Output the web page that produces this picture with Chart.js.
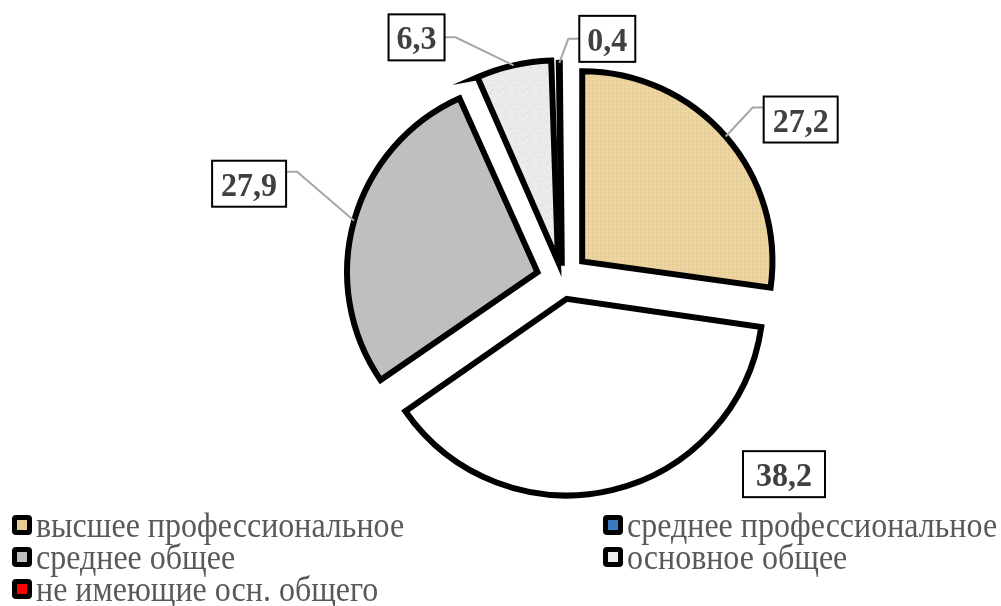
<!DOCTYPE html>
<html><head><meta charset="utf-8">
<script src="https://cdn.jsdelivr.net/npm/chart.js@4/dist/chart.umd.min.js"></script>
<style>html,body{margin:0;padding:0;background:#fff;}</style>
</head><body>
<canvas id="c" width="1001" height="606" style="display:block;width:1001px;height:606px"></canvas>
<script>
// ---- data ----
const categories = ['высшее профессиональное', 'среднее профессиональное', 'среднее общее', 'основное общее', 'не имеющие осн. общего'];
const shares = [27.2, 38.2, 27.9, 6.3, 0.4];
const valueLabels = ['27,2', '38,2', '27,9', '6,3', '0,4'];
// ---- styles ----
const legendSwatch = ['#E7CC92', '#3A7AC0', '#BFBFBF', '#EEEEEE', '#FF0000'];
const sliceBase = ['#EED7A3', '#FFFFFF', '#BFBFBF', '#EBEBEB', '#000000'];
const explode = [107, 81.5, 102, 72, 53];
const showLeader = [true, false, true, true, true];
const boxDx = [75, 172, -105, -97, 48];
const boxDy = [-17, -16, -37, -28, -24];
const attachDy = [-12, 0, -12, 0, 0];
const boxPadX = [9, 13, 9, 8, 8];
const SERIF = '"Liberation Serif", "DejaVu Serif", "Times New Roman", serif';

function texture(base, kind) {
  const c = document.createElement('canvas');
  c.width = 24; c.height = 24;
  const g = c.getContext('2d');
  g.fillStyle = base; g.fillRect(0, 0, 24, 24);
  if (kind === 'grid') {
    g.fillStyle = 'rgba(200,170,110,0.18)';
    for (let i = 0; i < 24; i += 4) { g.fillRect(i, 0, 1, 24); g.fillRect(0, i + 2, 24, 1); }
  } else if (kind === 'speck') {
    g.fillStyle = 'rgba(180,180,180,0.35)';
    const pts = [[1,3],[5,9],[9,2],[13,14],[17,6],[21,19],[3,17],[8,21],[15,11],[19,1],[11,7],[22,12],[6,13],[14,20],[2,10]];
    pts.forEach(p => g.fillRect(p[0], p[1], 2, 1));
  }
  return g.createPattern(c, 'repeat');
}
const ctx0 = document.getElementById('c').getContext('2d');
const fills = [texture(sliceBase[0], 'grid'), sliceBase[1], sliceBase[2], texture(sliceBase[3], 'speck'), sliceBase[4]];

const labelPlugin = {
  id: 'labelsAndLegend',
  afterDatasetsDraw(chart) {
    const ctx = chart.ctx;
    const meta = chart.getDatasetMeta(0);
    ctx.save();
    ctx.font = 'bold 32px ' + SERIF;
    meta.data.forEach((arc, i) => {
      const p = arc.getProps(['x', 'y', 'startAngle', 'endAngle', 'outerRadius', 'circumference']);
      const mid = (p.startAngle + p.endAngle) / 2;
      const off = (explode[i] / 4) * (1 + (1 - Math.sin(Math.min(Math.PI, p.circumference))));
      const ax = p.x + Math.cos(mid) * (off + p.outerRadius);
      const ay = p.y + Math.sin(mid) * (off + p.outerRadius);
      const tw = ctx.measureText(valueLabels[i]).width;
      const bw = tw + 2 * boxPadX[i], bh = 46;
      const cx = ax + boxDx[i], cy = ay + boxDy[i];
      if (showLeader[i]) {
        const right = boxDx[i] < 0;
        const ex = right ? cx + bw / 2 : cx - bw / 2;
        const ey = cy + attachDy[i];
        ctx.strokeStyle = '#A6A6A6'; ctx.lineWidth = 2;
        ctx.beginPath(); ctx.moveTo(ax, ay); ctx.lineTo(right ? ex + 11 : ex - 11, ey); ctx.lineTo(ex, ey); ctx.stroke();
      }
      ctx.fillStyle = '#fff'; ctx.fillRect(cx - bw / 2, cy - bh / 2, bw, bh);
      ctx.strokeStyle = '#000'; ctx.lineWidth = 2;
      ctx.strokeRect(cx - bw / 2, cy - bh / 2, bw, bh);
      ctx.fillStyle = '#404040'; ctx.textAlign = 'center'; ctx.textBaseline = 'alphabetic';
      ctx.save();
      ctx.translate(cx, cy + 12);
      ctx.scale(1, 1.08);
      ctx.fillText(valueLabels[i], 0, 0);
      ctx.restore();
    });
    // legend
    ctx.font = '32px ' + SERIF;
    ctx.textAlign = 'left';
    categories.forEach((name, i) => {
      const col = i % 2, row = Math.floor(i / 2);
      const sx = col ? 603 : 12;
      const sy = 525 + row * 32;
      ctx.fillStyle = '#000';
      ctx.beginPath(); ctx.roundRect(sx, sy - 10, 20, 20, 4); ctx.fill();
      ctx.fillStyle = legendSwatch[i];
      ctx.fillRect(sx + 5, sy - 5, 10, 10);
      ctx.fillStyle = '#595959';
      ctx.save();
      ctx.translate(sx + 24, sy + 12);
      ctx.scale(1, 1.15);
      ctx.fillText(name, 0, 0);
      ctx.restore();
    });
    ctx.restore();
  }
};

new Chart(ctx0, {
  type: 'pie',
  data: {
    labels: categories,
    datasets: [{
      data: shares,
      backgroundColor: fills,
      borderColor: '#000',
      borderWidth: 6,
      borderJoinStyle: 'miter',
      offset: explode,
      radius: 190
    }]
  },
  options: {
    responsive: false,
    animation: false,
    events: [],
    layout: { padding: { left: 123, right: 0, top: 0, bottom: 48 } },
    plugins: { legend: { display: false }, tooltip: { enabled: false } }
  },
  plugins: [labelPlugin]
});
</script>
</body></html>
